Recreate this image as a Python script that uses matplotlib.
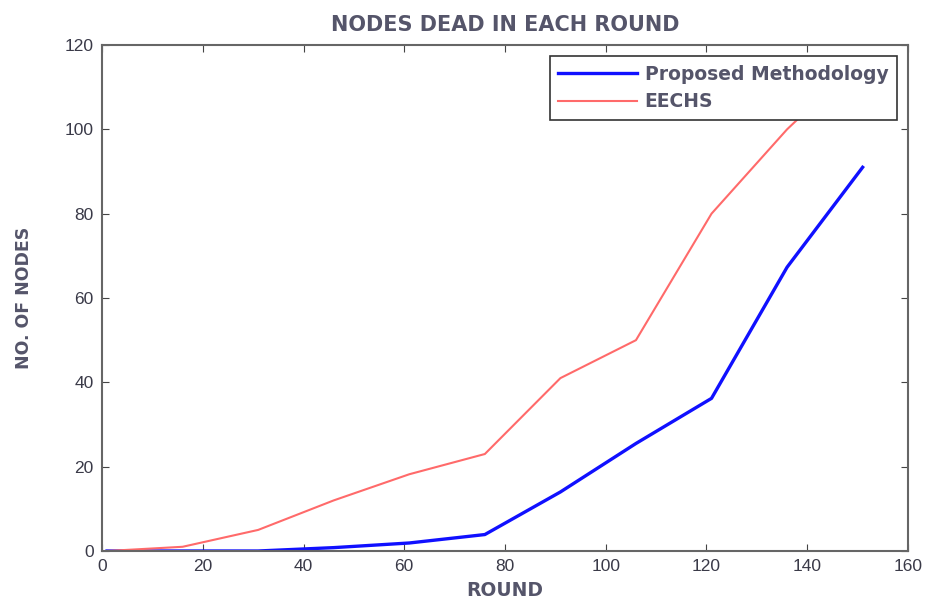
import matplotlib.pyplot as plt

rounds = [1, 16, 31, 46, 61, 76, 91, 106, 121, 136, 151]
proposed = [0, 0, 0, 0.8, 1.9, 3.9, 14, 25.5, 36.2, 67.3, 91]
eechs = [0, 1, 5, 12, 18.2, 23, 41, 50, 80, 100, 117]

plt.rcParams['font.family'] = ['Liberation Sans', 'DejaVu Sans']
txt = '#3a3a48'
wide = dict(family='DejaVu Sans', weight='bold', color='#55556a')

fig = plt.figure(figsize=(9.3, 6.01), dpi=100)
ax = fig.add_axes([0.1097, 0.0832, 0.8666, 0.8419])

ax.plot(rounds, proposed, color='#1010ff', lw=2.4, label='Proposed Methodology')
ax.plot(rounds, eechs, color='#ff6a6a', lw=1.5, label='EECHS')

ax.set_xlim(0, 160)
ax.set_ylim(0, 120)
ax.set_xticks(range(0, 161, 20))
ax.set_yticks(range(0, 121, 20))
ax.tick_params(direction='in', top=True, right=True, labelsize=12.5,
               labelcolor=txt, color='#444444', length=5, pad=6)
for s in ax.spines.values():
    s.set_color('#666666')
    s.set_linewidth(1.5)

ax.set_title('NODES DEAD IN EACH ROUND', fontsize=15, pad=10, **wide)
ax.set_xlabel('ROUND', fontsize=13.5, labelpad=5, **wide)
ax.set_ylabel('NO. OF NODES', fontsize=12.5, labelpad=23, **wide)

leg = ax.legend(loc='upper right', frameon=True, fancybox=False,
                prop=dict(family='DejaVu Sans', weight='bold', size=13.5),
                handlelength=4.2, borderaxespad=0.6, labelspacing=0.45,
                framealpha=1, borderpad=0.45, handletextpad=0.4)
leg.get_frame().set_edgecolor('#333333')
leg.get_frame().set_linewidth(1.2)
for t in leg.get_texts():
    t.set_color('#55556a')

plt.savefig('out.png', dpi=100)
